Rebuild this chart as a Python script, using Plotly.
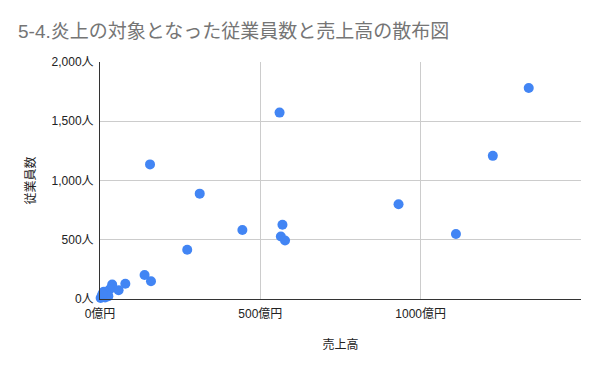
import plotly.graph_objects as go

# 売上高 (億円) and 従業員数 (人)
sales = [1337, 1225, 931, 1110, 560, 156, 311, 444, 569, 564, 577, 272,
         139, 159, 79, 38, 58, 30, 20, 12, 6, 2, 16, 26, 8]
employees = [1780, 1208, 800, 548, 1573, 1136, 889, 582, 626, 528, 494, 416,
             203, 150, 128, 122, 74, 80, 50, 62, 30, 8, 12, 24, 45]

x_tickvals = [0, 500, 1000, 1500]
x_ticktext = ["0億円", "500億円", "1000億円", ""]
y_tickvals = [0, 500, 1000, 1500, 2000]
y_ticktext = ["0人", "500人", "1,000人", "1,500人", "2,000人"]

title_text = "5-4.炎上の対象となった従業員数と売上高の散布図"
x_title = "売上高"
y_title = "従業員数"

FONT = "Liberation Sans, Arial, Noto Sans CJK JP, sans-serif"

fig = go.Figure()
fig.add_trace(go.Scatter(
    x=sales, y=employees, mode="markers",
    marker=dict(color="#4285F4", size=10, line=dict(width=0)),
    cliponaxis=False, showlegend=False,
))

fig.update_layout(
    width=600, height=371,
    margin=dict(l=99.5, r=19, t=61.5, b=71.5),
    paper_bgcolor="white", plot_bgcolor="white",
    font=dict(family=FONT, size=12, color="#222222"),
    title=dict(text=title_text, x=0.03, xanchor="left", y=0.915, yanchor="middle",
               font=dict(family=FONT, size=19, color="#757575")),
)
fig.update_xaxes(
    range=[0, 1500], tickvals=x_tickvals, ticktext=x_ticktext,
    showgrid=True, gridcolor="#cccccc", gridwidth=1,
    showline=True, linecolor="#333333", linewidth=1,
    zeroline=False, ticks="", automargin=False, ticklabelstandoff=4,
    tickfont=dict(size=12, color="#222222"),
    title=dict(text=x_title, font=dict(size=12, color="#222222"), standoff=20),
)
fig.update_yaxes(
    range=[0, 2000], tickvals=y_tickvals, ticktext=y_ticktext,
    showgrid=True, gridcolor="#cccccc", gridwidth=1,
    showline=True, linecolor="#333333", linewidth=1,
    zeroline=False, ticks="", automargin=False, ticklabelstandoff=3,
    tickfont=dict(size=12, color="#222222"),
    title=dict(text=y_title, font=dict(size=12, color="#222222"), standoff=13),
)

fig.write_html("out.html", config={"displayModeBar": False},
               post_script="document.body.style.margin='0';")
